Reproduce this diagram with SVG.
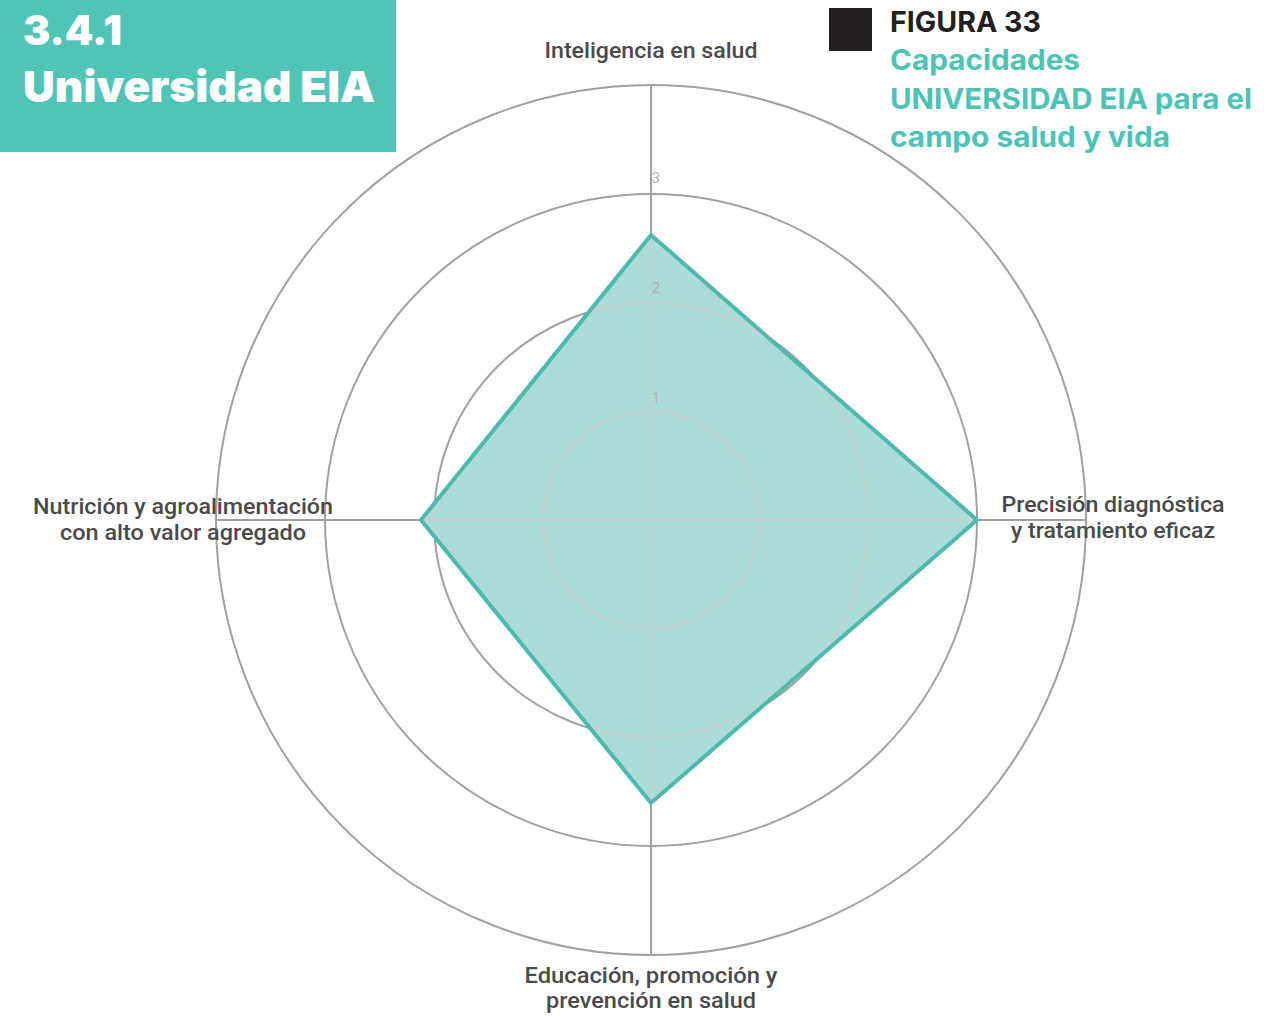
<svg xmlns="http://www.w3.org/2000/svg" xmlns:xlink="http://www.w3.org/1999/xlink" width="1281" height="1016" viewBox="0 0 1281 1016">
<style>
.hdr{font-family:Inter,"Noto Sans","Liberation Sans",sans-serif;font-weight:900;fill:#ffffff}
.fig{font-family:Inter,"Noto Sans","Liberation Sans",sans-serif;font-weight:700;font-size:28px}
.lbl{font-family:Roboto,"Liberation Sans",sans-serif;font-weight:500;font-size:22px;fill:#4a4a4a}
.tick{font-family:Roboto,"Liberation Sans",sans-serif;font-size:14px;fill:#b0b0b0}
.grid circle,.grid line{fill:none}
</style>
<defs>
<clipPath id="polyClip"><polygon points="651,235 977,520 651,803 421,520"/></clipPath>
<g id="gridShapes">
<circle cx="651" cy="520" r="108"/>
<circle cx="651" cy="520" r="217"/>
<circle cx="651" cy="520" r="326"/>
<circle cx="651" cy="520" r="435"/>
<line x1="651" y1="85" x2="651" y2="955"/>
<line x1="216" y1="520" x2="1086" y2="520"/>
</g>
</defs>
<rect width="1281" height="1016" fill="#ffffff"/>
<g id="header">
<rect x="0" y="0" width="396" height="152" fill="#50C4B7"/>
<text class="hdr" x="23" y="45" font-size="41" textLength="99" lengthAdjust="spacingAndGlyphs">3.4.1</text>
<text class="hdr" x="23" y="102" font-size="43" textLength="352" lengthAdjust="spacingAndGlyphs">Universidad EIA</text>
</g>
<g id="figure-title">
<rect x="829" y="8" width="43" height="43" fill="#231f20"/>
<text class="fig" x="890" y="32" fill="#231f20" textLength="151" lengthAdjust="spacingAndGlyphs">FIGURA 33</text>
<text class="fig" x="890" y="70" fill="#4CC3B5" textLength="190" lengthAdjust="spacingAndGlyphs">Capacidades</text>
<text class="fig" x="890" y="109" fill="#4CC3B5" textLength="362" lengthAdjust="spacingAndGlyphs">UNIVERSIDAD EIA para el</text>
<text class="fig" x="890" y="147" fill="#4CC3B5" textLength="280" lengthAdjust="spacingAndGlyphs">campo salud y vida</text>
</g>
<g id="grid" class="grid" stroke="#a0a0a0" stroke-width="2" fill="none">
<use xlink:href="#gridShapes" href="#gridShapes"/>
</g>
<g id="data-area">
<polygon points="651,235 977,520 651,803 421,520" fill="#acdcd8"/>
<g clip-path="url(#polyClip)" stroke="#c3d0ce" stroke-width="2" fill="none">
<use xlink:href="#gridShapes" href="#gridShapes"/>
</g>
<polygon points="651,235 977,520 651,803 421,520" fill="none" stroke="#4bb9ae" stroke-width="4" stroke-linejoin="miter"/>
</g>
<g id="ticks">
<text class="tick" x="656" y="403" text-anchor="middle">1</text>
<text class="tick" x="656" y="293" text-anchor="middle">2</text>
<text class="tick" x="656" y="183" text-anchor="middle">3</text>
</g>
<g id="axis-top">
<text class="lbl" x="651" y="58" text-anchor="middle" textLength="213" lengthAdjust="spacingAndGlyphs">Inteligencia en salud</text>
</g>
<g id="axis-right">
<text class="lbl" x="1113" y="512" text-anchor="middle" textLength="223" lengthAdjust="spacingAndGlyphs">Precisión diagnóstica</text>
<text class="lbl" x="1113" y="538" text-anchor="middle" textLength="204" lengthAdjust="spacingAndGlyphs">y tratamiento eficaz</text>
</g>
<g id="axis-bottom">
<text class="lbl" x="651" y="983" text-anchor="middle" textLength="253" lengthAdjust="spacingAndGlyphs">Educación, promoción y</text>
<text class="lbl" x="651" y="1008" text-anchor="middle" textLength="210" lengthAdjust="spacingAndGlyphs">prevención en salud</text>
</g>
<g id="axis-left">
<text class="lbl" x="183" y="514" text-anchor="middle" textLength="300" lengthAdjust="spacingAndGlyphs">Nutrición y agroalimentación</text>
<text class="lbl" x="183" y="540" text-anchor="middle" textLength="246" lengthAdjust="spacingAndGlyphs">con alto valor agregado</text>
</g>
</svg>
